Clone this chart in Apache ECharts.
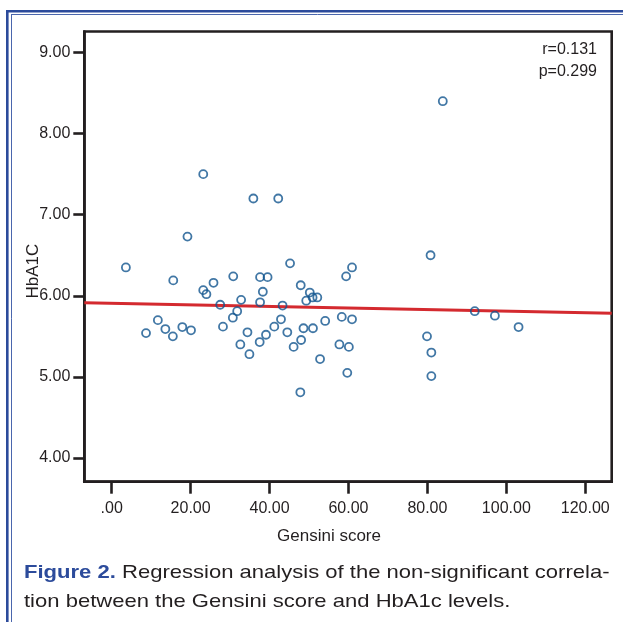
<!DOCTYPE html>
<html>
<head>
<meta charset="utf-8">
<script src="https://cdn.jsdelivr.net/npm/echarts@6/dist/echarts.min.js"></script>
<style>
html,body{margin:0;padding:0;background:#fff;}
#c{width:623px;height:622px;}
</style>
</head>
<body>
<div id="c"></div>
<script>
// ---- data ----
const gensini = [3.6, 8.7, 11.7, 13.6, 15.5, 15.6, 17.9, 19.2, 20.1, 23.2, 23.2, 24.0, 25.8, 27.5, 28.2, 30.7, 30.8, 31.8, 32.6, 32.8, 34.4, 34.9, 35.9, 37.5, 37.6, 37.6, 38.3, 39.1, 39.5, 41.2, 42.2, 42.9, 43.3, 44.5, 45.2, 46.1, 47.8, 47.9, 48.0, 48.6, 49.3, 50.2, 50.9, 51.0, 52.1, 52.8, 54.1, 57.7, 58.3, 59.4, 59.7, 60.1, 60.9, 60.9, 79.9, 80.8, 81.0, 81.0, 83.9, 92.0, 97.1, 103.1];
const hba1c = [6.35, 5.54, 5.70, 5.59, 5.50, 6.19, 5.615, 6.73, 5.575, 7.50, 6.07, 6.02, 6.16, 5.89, 5.62, 5.73, 6.24, 5.81, 5.40, 5.95, 5.55, 5.28, 7.20, 5.43, 6.23, 5.92, 6.05, 5.52, 6.23, 5.62, 7.20, 5.71, 5.88, 5.55, 6.40, 5.37, 4.81, 6.13, 5.455, 5.60, 5.94, 6.04, 5.98, 5.60, 5.98, 5.22, 5.69, 5.40, 5.74, 6.24, 5.05, 5.37, 6.35, 5.71, 5.50, 6.50, 5.30, 5.01, 8.40, 5.81, 5.755, 5.615];
const fitX = [-6.94, 126.7];
const fitY = [5.915, 5.784];
const xTicks = [0, 20, 40, 60, 80, 100, 120];
const yTicks = [4, 5, 6, 7, 8, 9];
const statsText = ['r=0.131', 'p=0.299'];
const captionBold = 'Figure 2.';
const captionRest1 = ' Regression analysis of the non-significant correla-';
const captionLine2 = 'tion between the Gensini score and HbA1c levels.';

// ---- chart ----
const FONT = '"Liberation Sans", Arial, Helvetica, sans-serif';
const INK = '#231f20';
const BLUE = '#2c4b9b';
const chart = echarts.init(document.getElementById('c'), null, {renderer: 'canvas'});
const fmt = v => (v === 0 ? '.00' : v.toFixed(2));

const option = {
  backgroundColor: '#ffffff',
  animation: false,
  grid: {
    left: 84.3, top: 31.5, right: 11.3, bottom: 140.3,
    show: true, borderColor: INK, borderWidth: 2.6, backgroundColor: 'transparent'
  },
  xAxis: {
    type: 'value', min: fitX[0], max: fitX[1],
    name: 'Gensini score', nameLocation: 'middle', nameGap: 46, nameMoveOverlap: false,
    nameTextStyle: {fontFamily: FONT, fontSize: 17, color: INK, padding: [0, 38, 0, 0]},
    splitLine: {show: false},
    axisLine: {show: true, onZero: false, lineStyle: {color: INK, width: 2.6}},
    axisTick: {show: true, customValues: xTicks, length: 12, lineStyle: {color: INK, width: 2.6}},
    axisLabel: {customValues: xTicks, formatter: fmt, margin: 19, fontFamily: FONT, fontSize: 16, color: INK}
  },
  yAxis: {
    type: 'value', min: 3.708, max: 9.259,
    name: 'HbA1C', nameLocation: 'middle', nameGap: 42, nameMoveOverlap: false,
    nameTextStyle: {fontFamily: FONT, fontSize: 17, color: INK, padding: [0, 29, 0, 0]},
    splitLine: {show: false},
    axisLine: {show: true, onZero: false, lineStyle: {color: INK, width: 2.6}},
    axisTick: {show: true, customValues: yTicks, length: 11, lineStyle: {color: INK, width: 2.6}},
    axisLabel: {customValues: yTicks, formatter: fmt, margin: 14, fontFamily: FONT, fontSize: 16, color: INK}
  },
  series: [
    {
      type: 'line', data: fitX.map((x, i) => [x, fitY[i]]), showSymbol: false, symbol: 'none',
      lineStyle: {color: '#d42a2f', width: 3}, z: 2, silent: true
    },
    {
      type: 'scatter', data: gensini.map((x, i) => [x, hba1c[i]]),
      symbol: 'circle', symbolSize: 8,
      itemStyle: {color: 'rgba(255,255,255,0)', borderColor: '#11558f', borderWidth: 1.8},
      z: 3
    }
  ],
  graphic: [
    // outer frame (double blue line)
    {type: 'line', shape: {x1: 7.3, y1: 10, x2: 7.3, y2: 640}, style: {stroke: BLUE, lineWidth: 2.6}},
    {type: 'line', shape: {x1: 6, y1: 11.3, x2: 640, y2: 11.3}, style: {stroke: BLUE, lineWidth: 2.6}},
    {type: 'line', shape: {x1: 11.5, y1: 14.5, x2: 11.5, y2: 640}, style: {stroke: '#4a66ad', lineWidth: 1}},
    {type: 'line', shape: {x1: 11, y1: 14.5, x2: 640, y2: 14.5}, style: {stroke: '#4a66ad', lineWidth: 1}},
    // stats
    {type: 'text', x: 597, y: 50, style: {text: statsText[0], align: 'right', verticalAlign: 'middle', font: '16px ' + FONT, fill: INK}},
    {type: 'text', x: 597, y: 72, style: {text: statsText[1], align: 'right', verticalAlign: 'middle', font: '16px ' + FONT, fill: INK}},
    // caption
    {type: 'text', x: 24, y: 573, scaleX: 1.16, style: {
      text: '{b|' + captionBold + '}{n|' + captionRest1 + '}',
      verticalAlign: 'middle',
      rich: {
        b: {fontFamily: FONT, fontSize: 19, fontWeight: 'bold', fill: BLUE, color: BLUE},
        n: {fontFamily: FONT, fontSize: 19, fill: INK, color: INK}
      }
    }},
    {type: 'text', x: 24, y: 602, scaleX: 1.16, style: {text: captionLine2, verticalAlign: 'middle', font: '19px ' + FONT, fill: INK}}
  ]
};
chart.setOption(option);
</script>
</body>
</html>
